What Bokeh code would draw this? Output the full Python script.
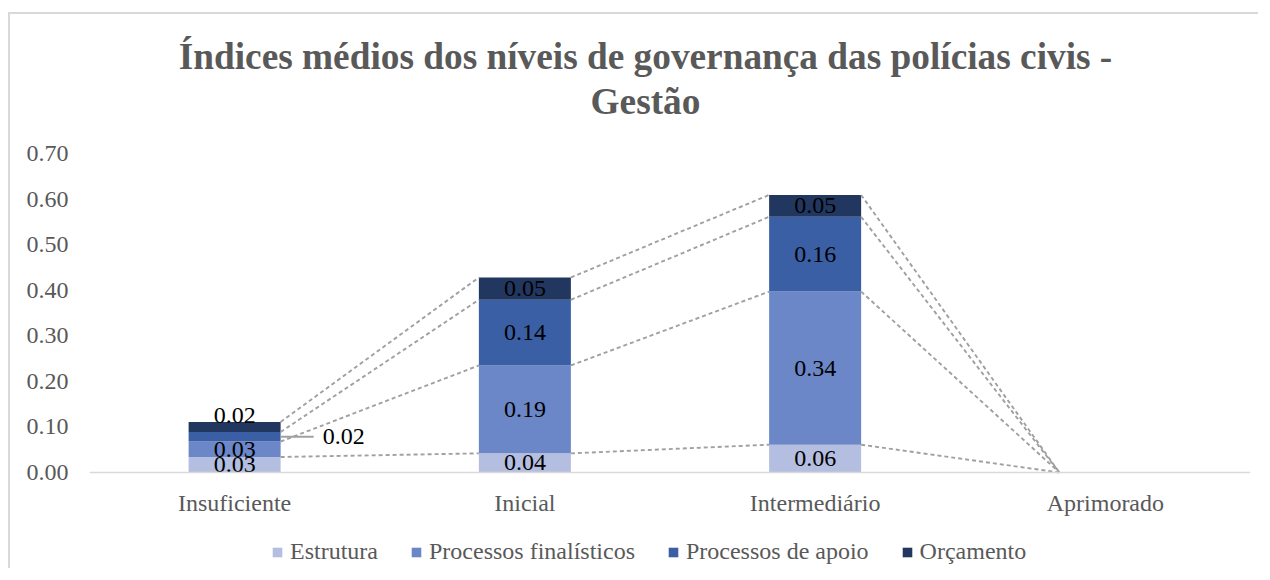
import numpy as np
from bokeh.plotting import figure
from bokeh.models import (ColumnDataSource, FixedTicker, Legend, LegendItem, Range1d,
                          LinearAxis, NumeralTickFormatter, Spacer, Label)
from bokeh.layouts import column, row
from bokeh.core.properties import value
from bokeh.embed import file_html
from bokeh.resources import INLINE

# ---------------- data ----------------
categories = ["Insuficiente", "Inicial", "Intermediário", "Aprimorado"]
series_names = ["Estrutura", "Processos finalísticos", "Processos de apoio", "Orçamento"]
estrutura = [0.034, 0.042, 0.061, 0.0]
finalisticos = [0.034, 0.193, 0.336, 0.0]
apoio = [0.021, 0.144, 0.164, 0.0]
orcamento = [0.022, 0.049, 0.048, 0.0]
y_ticks = [0.0, 0.1, 0.2, 0.3, 0.4, 0.5, 0.6, 0.7]
title_line1 = "Índices médios dos níveis de governança das polícias civis -"
title_line2 = "Gestão"

# ---------------- style ----------------
colors = ["#b4bee0", "#6b87c8", "#3a5fa5", "#22375f"]
FONT = "Liberation Serif"
GRAY_TXT = "#595959"
AXIS_GRAY = "#d9d9d9"
SERIES_LINE = "#a0a0a0"

W, H = 1250, 556
LEFT, RIGHT = 79, 10
PLOT_TOP = 139            # pixel distance from canvas top to the 0.70 gridline
px_per_unit = 319 / 0.70
y_end = 0.70 + PLOT_TOP / px_per_unit
y_start = 0.70 - (H - PLOT_TOP) / px_per_unit
bar_w = 0.317
px_per_cat = (W - LEFT - RIGHT) / 4.0

p = figure(width=W, height=H, output_backend="svg", toolbar_location=None,
           x_range=Range1d(-0.5, 3.5), y_range=Range1d(y_start, y_end),
           min_border_left=LEFT, min_border_right=RIGHT, min_border_top=0,
           min_border_bottom=0, x_axis_type=None, title=None,
           styles={"border-left": "2px solid #d9d9d9", "border-top": "2px solid #d9d9d9"})
p.outline_line_color = None
p.xgrid.visible = False
p.ygrid.visible = False
p.background_fill_color = "white"
p.border_fill_color = "white"

# title (two centred lines)
for txt, base in [(title_line1, H - 42), (title_line2, H - 87)]:
    p.add_layout(Label(x=556, y=base, x_units="screen", y_units="screen", text=txt,
                       text_align="center", text_baseline="alphabetic",
                       text_font=FONT, text_font_size="37.3px", text_font_style="bold",
                       text_color=GRAY_TXT))

# y axis
ya = p.yaxis[0]
ya.ticker = FixedTicker(ticks=y_ticks)
ya.formatter = NumeralTickFormatter(format="0.00")
ya.axis_line_color = None
ya.major_tick_line_color = None
ya.major_tick_out = 0
ya.major_tick_in = 0
ya.minor_tick_line_color = None
ya.major_label_standoff = 21
ya.major_label_text_font = FONT
ya.major_label_text_font_size = "24px"
ya.major_label_text_color = GRAY_TXT

# x axis at y = 0
xa = LinearAxis(fixed_location=0,
                ticker=FixedTicker(ticks=list(range(len(categories)))),
                major_label_overrides={i: c for i, c in enumerate(categories)})
xa.axis_line_color = AXIS_GRAY
xa.axis_line_width = 1.5
xa.major_tick_line_color = None
xa.major_tick_out = 0
xa.major_tick_in = 0
xa.minor_tick_line_color = None
xa.major_label_standoff = 17
xa.major_label_text_font = FONT
xa.major_label_text_font_size = "24px"
xa.major_label_text_color = GRAY_TXT
p.add_layout(xa, "below")

# bars
x = np.arange(len(categories))
vals = np.array([estrutura, finalisticos, apoio, orcamento])
tops = np.cumsum(vals, axis=0)
bottoms = tops - vals

renderers = []
for k, name in enumerate(series_names):
    src = ColumnDataSource(dict(x=x, top=tops[k], bottom=bottoms[k]))
    r = p.vbar(x="x", top="top", bottom="bottom", width=bar_w, source=src,
               fill_color=colors[k], line_color=None)
    renderers.append(r)

# series lines (dashed connectors between stack tops)
xs, ys = [], []
for k in range(len(series_names)):
    for i in range(len(categories) - 1):
        xs.append([x[i] + bar_w / 2, x[i + 1] - bar_w / 2])
        ys.append([tops[k][i], tops[k][i + 1]])
p.multi_line(xs=xs, ys=ys, line_color=SERIES_LINE, line_width=1.9, line_dash="4 3")

# data labels
lx, ly, lt, la = [], [], [], []
for k in range(len(series_names)):
    for i in range(len(categories)):
        v = vals[k][i]
        if v <= 0:
            continue
        mid = (tops[k][i] + bottoms[k][i]) / 2
        xx, align = float(x[i]), "center"
        if i == 0 and k == 2:
            xx = x[i] + 88 / px_per_cat
            align = "left"
            p.segment(x0=[x[i] + bar_w / 2], y0=[mid], x1=[x[i] + 79 / px_per_cat], y1=[mid],
                      line_color=SERIES_LINE, line_width=1.9)
        if i == 0 and k == 3:
            mid = mid + 11 / px_per_unit
        lx.append(xx); ly.append(mid); lt.append(f"{v:.2f}"); la.append(align)
lsrc = ColumnDataSource(dict(x=lx, y=ly, t=lt, a=la))
p.text(x="x", y="y", text="t", text_align="a", text_baseline="middle", source=lsrc,
       text_font=value("'Liberation Serif', serif"), text_font_size="24px", text_color="#000000")

# legend inside frame bottom
legend = Legend(items=[LegendItem(label=n, renderers=[r]) for n, r in zip(series_names, renderers)],
                orientation="horizontal", location=(182, 5))
legend.glyph_width = 12
legend.glyph_height = 12
legend.label_standoff = 7
legend.spacing = 32
legend.padding = 0
legend.margin = 0
legend.border_line_color = None
legend.background_fill_alpha = 0
legend.label_text_font = FONT
legend.label_text_font_size = "24px"
legend.label_text_color = GRAY_TXT
p.add_layout(legend, "center")

layout = column(Spacer(height=12), row(Spacer(width=8), p))
open("out.html", "w").write(file_html(layout, INLINE))
